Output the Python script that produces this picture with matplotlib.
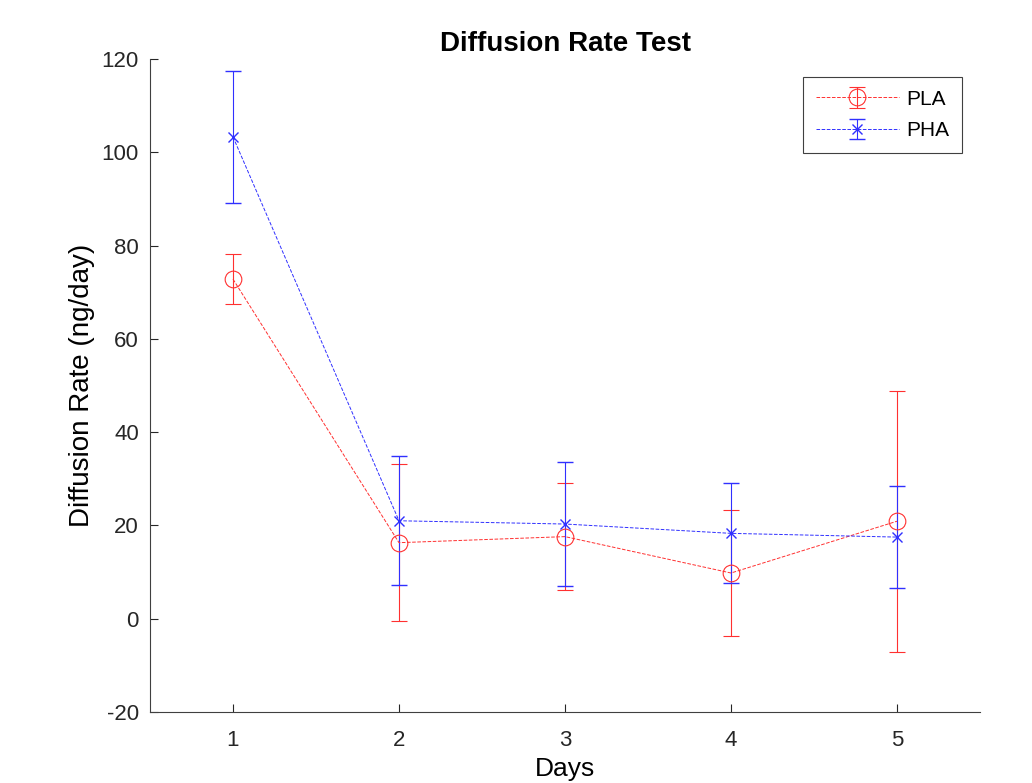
import matplotlib
matplotlib.use("Agg")
import matplotlib.pyplot as plt

plt.rcParams['font.family'] = ['Liberation Sans', 'DejaVu Sans']
plt.rcParams['axes.unicode_minus'] = False

days = [1, 2, 3, 4, 5]
pla_rate = [72.8, 16.3, 17.6, 9.8, 20.9]
pla_err = [5.4, 16.8, 11.5, 13.5, 28.0]
pha_rate = [103.3, 21.0, 20.3, 18.3, 17.5]
pha_err = [14.2, 13.8, 13.3, 10.7, 11.0]

fig = plt.figure(figsize=(10.32, 7.83), dpi=100)
ax = fig.add_axes([150 / 1032, 1 - 712 / 783, 830 / 1032, 653 / 783])

ax.errorbar(days, pla_rate, yerr=pla_err, color='#ff3030', ls='--', lw=0.7,
            marker='o', ms=12, mfc='none', mew=0.8, capsize=6, elinewidth=0.8,
            capthick=0.8, label='PLA')
ax.errorbar(days, pha_rate, yerr=pha_err, color='#3030ff', ls='--', lw=0.7,
            marker='x', ms=7, mew=1.0, capsize=6, elinewidth=0.8,
            capthick=0.8, label='PHA')

ax.set_xlim(0.5, 5.5)
ax.set_ylim(-20, 120)
ax.set_xticks(days)
ax.set_yticks(range(-20, 121, 20))
ax.tick_params(direction='in', length=6, width=0.8, labelsize=16, colors='#262626')
ax.tick_params(axis='x', pad=13)
ax.tick_params(axis='y', pad=8)
for s in ['top', 'right']:
    ax.spines[s].set_visible(False)
for s in ['left', 'bottom']:
    ax.spines[s].set_color('#404040')
    ax.spines[s].set_linewidth(0.8)

ax.set_title('Diffusion Rate Test', fontsize=20, fontweight='bold', pad=6)
ax.set_xlabel('Days', fontsize=19, labelpad=4)
ax.set_ylabel('Diffusion Rate (ng/day)', fontsize=20, labelpad=5)

leg = ax.legend(loc='upper right', bbox_to_anchor=(0.978, 0.972), borderaxespad=0,
                fontsize=15, fancybox=False, edgecolor='#404040', framealpha=1,
                handlelength=4.0, handletextpad=0.35, borderpad=0.6,
                labelspacing=0.6)
leg.get_frame().set_linewidth(0.8)

fig.savefig('out.png', dpi=100)
